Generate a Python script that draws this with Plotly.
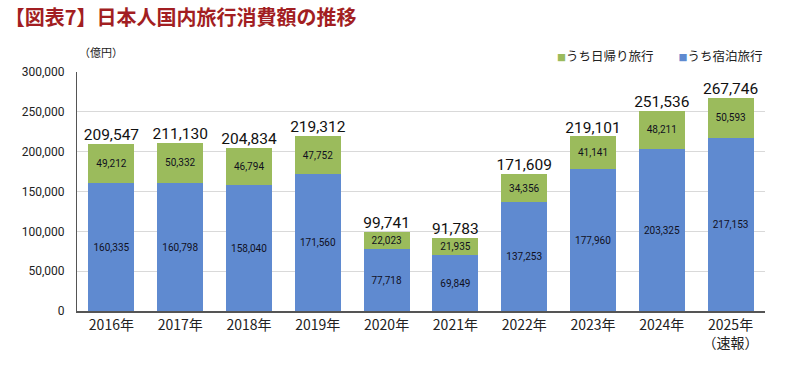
import plotly.graph_objects as go

years = ["2016年", "2017年", "2018年", "2019年", "2020年", "2021年", "2022年", "2023年", "2024年", "2025年"]
tick_labels = ["2016年", "2017年", "2018年", "2019年", "2020年", "2021年", "2022年", "2023年", "2024年", "2025年<br>（速報）"]
overnight = [160335, 160798, 158040, 171560, 77718, 69849, 137253, 177960, 203325, 217153]
daytrip = [49212, 50332, 46794, 47752, 22023, 21935, 34356, 41141, 48211, 50593]
totals = [209547, 211130, 204834, 219312, 99741, 91783, 171609, 219101, 251536, 267746]
series_names = ["うち日帰り旅行", "うち宿泊旅行"]

BLUE = "#5F8AD0"
GREEN = "#9BBB5C"
NUMFONT = "Roboto, sans-serif"
JPFONT = "Noto Sans CJK JP, sans-serif"

H, T, B = 380, 72, 69
PH = H - T - B


def ypaper(px_from_top):
    return (H - B - px_from_top) / PH


fig = go.Figure()
fig.add_trace(go.Bar(
    x=years, y=overnight, name=series_names[1], marker=dict(color=BLUE, line=dict(width=0)),
    text=[f"{v:,}" for v in overnight], textposition="inside", insidetextanchor="middle",
    textfont=dict(family=NUMFONT, size=14, color="#10101E"), textangle=0,
    showlegend=False,
))
fig.add_trace(go.Bar(
    x=years, y=daytrip, name=series_names[0], marker=dict(color=GREEN, line=dict(width=0)),
    text=[f"{v:,}" for v in daytrip], textposition="inside", insidetextanchor="middle",
    textfont=dict(family=NUMFONT, size=14, color="#10101E"), textangle=0,
    showlegend=False,
))
fig.add_trace(go.Scatter(
    x=years, y=totals, mode="text", text=[f"{v:,}" for v in totals],
    textposition="top center", textfont=dict(family=NUMFONT, size=15.5, color="#111111"),
    showlegend=False, hoverinfo="skip", cliponaxis=False,
))

legend_text = (
    f"<span style='color:{GREEN};font-size:9px'>■</span>{series_names[0]}"
    f"　　<span style='color:{BLUE};font-size:9px'>■</span>{series_names[1]}"
)

fig.update_layout(
    width=800, height=H, barmode="stack", bargap=0.33,
    margin=dict(l=77, r=35, t=T, b=B, autoexpand=False),
    plot_bgcolor="white", paper_bgcolor="white",
    uniformtext=dict(minsize=8, mode="show"),
    showlegend=False,
    title=dict(text="<b>【図表7】日本人国内旅行消費額の推移</b>", x=0.006, xanchor="left",
               y=1 - 18 / H, yanchor="middle", yref="container",
               font=dict(family=JPFONT, size=20, color="#A21E22")),
    annotations=[
        dict(text="（億円）", x=0.0, xanchor="left", y=ypaper(52), yanchor="middle",
             xref="paper", yref="paper", showarrow=False,
             font=dict(family=JPFONT, size=11, color="#222222")),
        dict(text=legend_text, x=1.0, xanchor="right", y=ypaper(55), yanchor="middle",
             xref="paper", yref="paper", showarrow=False,
             font=dict(family=JPFONT, size=12.5, color="#222222")),
    ],
)
fig.update_xaxes(
    tickvals=years, ticktext=tick_labels, showline=True, linecolor="#555555", linewidth=1.5,
    tickfont=dict(family=JPFONT, size=14, color="#222222"), ticks="", showgrid=False,
    automargin=False,
)
fig.update_yaxes(
    range=[0, 300000], dtick=50000, tickformat=",", showline=True, linecolor="#555555",
    linewidth=1, showgrid=True, gridcolor="#D9D9D9", gridwidth=1, zeroline=False,
    tickfont=dict(family=NUMFONT, size=12, color="#222222"), ticklabelstandoff=9,
    automargin=False,
)
fig.write_html("out.html", config={"displayModeBar": False},
               post_script="document.body.style.margin='0';")
